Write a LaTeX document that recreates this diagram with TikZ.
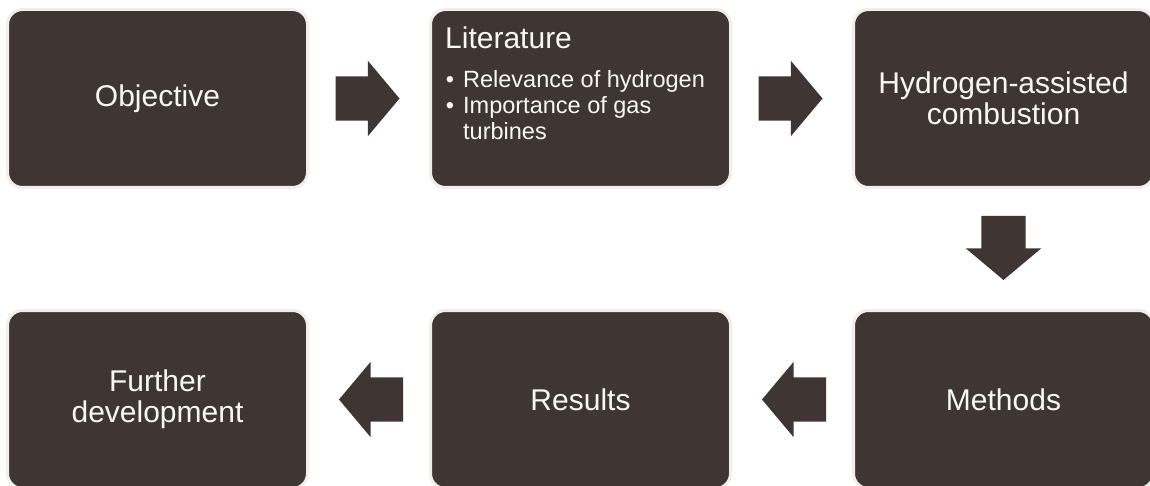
\documentclass[tikz,border=0pt]{standalone}
\usepackage{fontspec}
\setmainfont{Liberation Sans}
\usetikzlibrary{positioning,shapes.arrows,calc}
\definecolor{boxfill}{HTML}{3F3533}
\definecolor{boxrim}{HTML}{F2EFEA}
\definecolor{boxtext}{HTML}{FAF8F5}

\begin{document}
\begin{tikzpicture}[
  x=1pt,y=1pt,
  box/.style={draw=boxrim,line width=3pt,fill=boxfill,rounded corners=15pt,minimum width=300pt,minimum height=178pt,outer sep=0pt,inner sep=0pt,align=center,text=boxtext,font=\fontsize{30}{31}\selectfont},
  blockarr/.style={single arrow,fill=boxfill,minimum height=64pt,single arrow head extend=15.5pt,single arrow tip angle=100,inner sep=22pt,outer sep=0pt,anchor=tail}
]
\useasboundingbox (0,0) rectangle (1150,-486);
\node[box] (obj) at (157.5,-98.5) {Objective};
\node[box, right=123pt of obj] (lit) {};
\node[box, right=123pt of lit] (comb) {Hydrogen-assisted\\combustion};
\node[box, below=123pt of comb] (meth) {Methods};
\node[box, left=123pt of meth] (res) {Results};
\node[box, left=123pt of res] (dev) {Further\\development};
% text of the literature box, set from its top left corner
\node[anchor=north west,inner sep=0pt,text=boxtext] (littext) at ($(lit.north west)+(14.5,-17.5)$) {%
  \begin{minipage}[t]{280pt}
  \fontsize{30}{36}\selectfont Literature\par
  \vspace{12.5pt}
  \fontsize{23.5}{26}\selectfont\leftskip=18pt
  \noindent\llap{\textbullet\hspace{9pt}}Relevance of hydrogen\par
  \noindent\llap{\textbullet\hspace{9pt}}Importance of gas\\turbines\par
  \end{minipage}};
% block arrows between the boxes (placed by their tails)
\node[blockarr] (a1) at ($(obj.east)!0.5!(lit.west)+(-33.5,0)$) {};
\node[blockarr] (a2) at ($(lit.east)!0.5!(comb.west)+(-33.5,0)$) {};
\node[blockarr,shape border rotate=270] (a3) at ($(comb.south)!0.5!(meth.north)+(0,33)$) {};
\node[blockarr,shape border rotate=180] (a4) at ($(meth.west)!0.5!(res.east)+(34,0)$) {};
\node[blockarr,shape border rotate=180] (a5) at ($(res.west)!0.5!(dev.east)+(34,0)$) {};
\end{tikzpicture}
\end{document}
